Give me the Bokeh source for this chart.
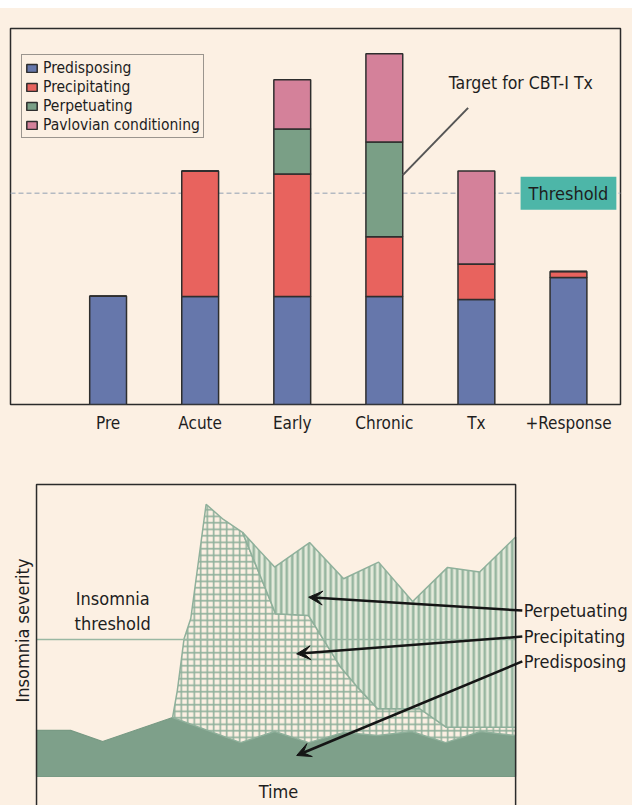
from bokeh.plotting import figure
from bokeh.models import ColumnDataSource, FixedTicker, Span, Label, Arrow, VeeHead
from bokeh.embed import file_html
from bokeh.resources import INLINE
from jinja2 import Template

FONT = "DejaVu Sans Condensed"
BG = "#fcf0e3"
INK = "#1e1e1e"

# ---------------- top chart data ----------------
stages = ["Pre", "Acute", "Early", "Chronic", "Tx", "+Response"]
stage_pos = [1, 2, 3, 4, 5, 6]
predisposing = [28.8, 28.7, 28.7, 28.7, 27.9, 33.8]
precipitating = [0.0, 33.4, 32.6, 15.9, 9.5, 1.6]
perpetuating = [0.0, 0.0, 12.0, 25.2, 0.0, 0.0]
pavlovian = [0.0, 0.0, 13.1, 23.5, 24.7, 0.0]
factor_keys = ["predisposing", "precipitating", "perpetuating", "pavlovian"]
factor_labels = ["Predisposing", "Precipitating", "Perpetuating", "Pavlovian conditioning"]
factor_colors = ["#6677ab", "#e8635e", "#7a9f86", "#d4819a"]
threshold_level = 56.2
target_text_pos = (4.70, 85.6)
target_line_x = [4.91, 4.2]
target_line_y = [78.9, 61.0]

# ---------------- bottom chart data ----------------
pred_t = [0, 7.1, 13.8, 28.4, 42.6, 49.7, 56.8, 64.1, 71.2, 78.3, 85.4, 92.7, 100]
pred_sev = [15.8, 15.8, 12.0, 20.2, 11.6, 15.4, 11.6, 15.1, 14.0, 15.4, 11.6, 15.4, 14.0]
precip_t = [28.4, 29.4, 30.8, 32.2, 35.4, 39.0, 43.0, 46.8, 49.9, 56.8, 60.0, 63.5, 67.0, 71.2, 80.0, 85.5, 100]
precip_sev = [20.2, 29.5, 47.2, 54.1, 93.2, 88.0, 83.6, 68.3, 55.7, 55.1, 46.6, 37.4, 30.6, 23.2, 23.2, 16.9, 16.9]
perp_t = [43.0, 49.7, 57.0, 64.1, 71.4, 78.5, 85.8, 92.5, 100]
perp_sev = [83.6, 71.7, 80.1, 67.7, 73.4, 59.9, 71.6, 70.0, 82.0]
insomnia_threshold = 46.9
factor_names = ["Perpetuating", "Precipitating", "Predisposing"]
label_y = [56.8, 47.9, 39.4]
arrow_head_x = [56.8, 54.3, 54.3]
arrow_head_y = [61.4, 42.0, 7.2]

# ---------------- top figure ----------------
src = ColumnDataSource(dict(x=stage_pos, predisposing=predisposing, precipitating=precipitating,
                            perpetuating=perpetuating, pavlovian=pavlovian))

p1 = figure(width=624, height=452, x_range=(-0.06, 6.565), y_range=(0, 100),
            output_backend="svg", toolbar_location=None,
            min_border_left=2, min_border_right=12, min_border_top=20, min_border_bottom=56,
            background_fill_color=BG, border_fill_color=BG,
            outline_line_color="#2b2b2b", outline_line_width=1.5)
p1.grid.visible = False
p1.yaxis.visible = False

p1.add_layout(Span(location=threshold_level, dimension="width", line_color="#b4bac2",
                   line_dash="5 3", line_width=1.5, level="underlay"))

p1.vbar_stack(factor_keys, x="x", width=0.4, color=factor_colors, source=src,
              legend_label=factor_labels, line_color="#2e2e2e", line_width=1.5)

xa = p1.xaxis[0]
xa.ticker = FixedTicker(ticks=stage_pos)
xa.major_label_overrides = {k: s for k, s in zip(stage_pos, stages)}
xa.axis_line_color = None
xa.major_tick_line_color = None
xa.minor_tick_line_color = None
xa.major_label_text_font = FONT
xa.major_label_text_font_size = "17px"
xa.major_label_text_color = INK
xa.major_label_standoff = 2

lg = p1.legend[0]
lg.location = (11, 266)
lg.label_text_font = FONT
lg.label_text_font_size = "15.5px"
lg.label_text_color = INK
lg.glyph_width = 13
lg.glyph_height = 10
lg.label_height = 19
lg.label_standoff = 5
lg.spacing = 0
lg.padding = 3
lg.margin = 0
lg.border_line_color = "#3a3a3a"
lg.border_line_width = 1.5
lg.background_fill_color = BG
lg.background_fill_alpha = 1.0

p1.add_layout(Label(x=6, y=threshold_level, text="Threshold", text_align="center",
                    text_baseline="middle", text_font=FONT, text_font_size="18px",
                    text_color=INK, background_fill_color="#4db6a8",
                    padding=(8, 6)))
p1.add_layout(Label(x=target_text_pos[0], y=target_text_pos[1], text="Target for CBT-I Tx",
                    text_align="left", text_baseline="middle", text_font=FONT,
                    text_font_size="17.5px", text_color=INK))
p1.line(target_line_x, target_line_y, line_color="#555555", line_width=2)

# ---------------- bottom figure (frame = whole canvas) ----------------
p2 = figure(width=624, height=345, x_range=(-5.85, 124.4), y_range=(-9.93, 108.2),
            output_backend="svg", toolbar_location=None,
            min_border_left=0, min_border_right=0, min_border_top=0, min_border_bottom=0,
            background_fill_color=BG, border_fill_color=BG, outline_line_color=None)
p2.grid.visible = False
p2.xaxis.visible = False
p2.yaxis.visible = False

GREEN_LINE = "#8fb09b"

pred_x = pred_t + [pred_t[-1], pred_t[0]]
pred_y = pred_sev + [0, 0]
p2.patch(pred_x, pred_y, fill_color="#7ea08a", line_color="#789a84", line_width=1.2)

i0 = pred_t.index(precip_t[0])
lower_t = pred_t[i0:]
lower_s = pred_sev[i0:]
precip_x = precip_t + lower_t[::-1]
precip_y = precip_sev + lower_s[::-1]
p2.patch(precip_x, precip_y, fill_color=BG, hatch_pattern="+", hatch_color=GREEN_LINE,
         hatch_weight=1.6, hatch_scale=6.5, line_color=GREEN_LINE, line_width=1.5)

j0 = precip_t.index(perp_t[0])
plo_t = precip_t[j0:]
plo_s = precip_sev[j0:]
perp_x = perp_t + plo_t[::-1]
perp_y = perp_sev + plo_s[::-1]
p2.patch(perp_x, perp_y, fill_color="#e4eadb", hatch_pattern="|", hatch_color="#97b6a0",
         hatch_weight=2.6, hatch_scale=5.5, line_color=GREEN_LINE, line_width=1.5)

t_min, t_max = pred_t[0], pred_t[-1]
p2.segment(x0=[t_min], y0=[insomnia_threshold], x1=[t_max], y1=[insomnia_threshold],
           line_color="#9ab8a3", line_width=1.5)

# box around the plotting area (open at the bottom)
box_top = 100
p2.multi_line(xs=[[t_min, t_min, t_max, t_max]], ys=[[-20, box_top, box_top, -20]],
              line_color="#2b2b2b", line_width=1.5)

text_kw = dict(text_font=FONT, text_font_size="18px", text_color=INK)
p2.add_layout(Label(x=15.9, y=61.0, text="Insomnia", text_align="center", text_baseline="middle", **text_kw))
p2.add_layout(Label(x=15.9, y=52.4, text="threshold", text_align="center", text_baseline="middle", **text_kw))
p2.add_layout(Label(x=50.5, y=-5.1, text="Time", text_align="center", text_baseline="middle", **text_kw))
p2.add_layout(Label(x=-2.92, y=50.0, text="Insomnia severity", angle=1.5708,
                    text_align="center", text_baseline="middle", **text_kw))

arrow_tail_x = 101.4
for name, ly, hx, hy in zip(factor_names, label_y, arrow_head_x, arrow_head_y):
    p2.add_layout(Label(x=101.7, y=ly, text=name, text_align="left", text_baseline="middle", **text_kw))
    p2.add_layout(Arrow(x_start=arrow_tail_x, y_start=ly, x_end=hx, y_end=hy,
                        line_color="#151515", line_width=2.5,
                        end=VeeHead(size=14, fill_color="#151515", line_color="#151515")))

TEMPLATE = Template("""{% extends base %}
{% block postamble %}<style>
html{background:#ffffff !important;}
body{margin:8px 0 0 0 !important;padding:0 0 0 8px !important;background:#fcf0e3 !important;height:auto !important;}
</style>{% endblock %}
""")

open("out.html", "w").write(file_html([p1, p2], INLINE, template=TEMPLATE))
